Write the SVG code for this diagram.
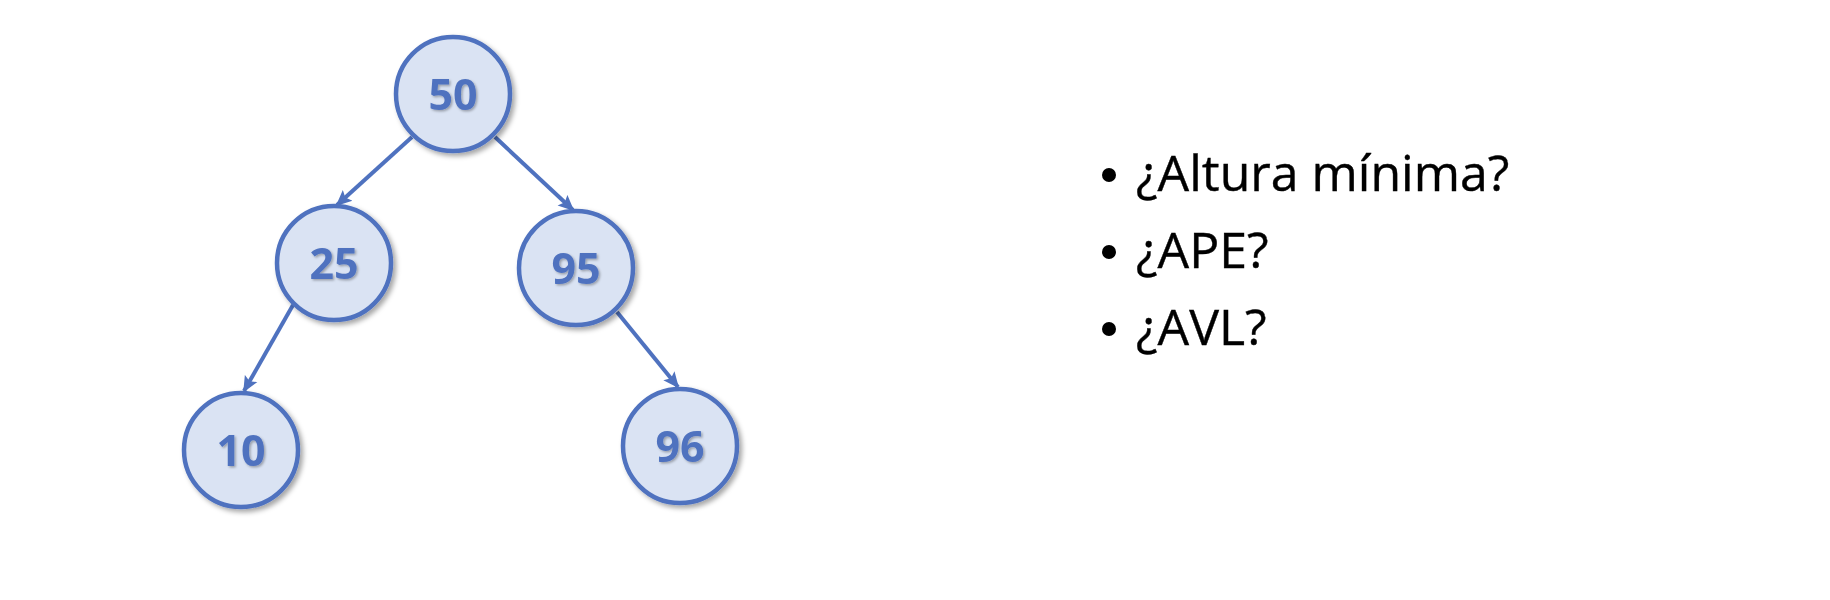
<svg xmlns="http://www.w3.org/2000/svg" width="1830" height="600" viewBox="0 0 1830 600">
<style>
.node circle{fill:#DAE3F3;stroke:#4F72BF;stroke-width:4.5;filter:url(#sh)}
.node text{font-family:"Open Sans","Lato",sans-serif;font-weight:bold;font-size:43px;fill:#4F72BF;text-anchor:middle;filter:url(#tsh)}
.edge{stroke:#4F72BF;stroke-width:4;fill:none;marker-end:url(#ah)}
.bul{font-family:"Open Sans","Noto Sans",sans-serif;font-size:50px;fill:#000;stroke:#000;stroke-width:0.4}
</style>
<defs>
<filter id="sh" x="-20%" y="-20%" width="150%" height="150%">
<feDropShadow dx="3" dy="3" stdDeviation="2.5" flood-color="#000" flood-opacity="0.35"/>
</filter>
<filter id="tsh" x="-20%" y="-20%" width="150%" height="150%">
<feDropShadow dx="1.5" dy="1.5" stdDeviation="1" flood-color="#000" flood-opacity="0.3"/>
</filter>
<marker id="ah" viewBox="0 0 10 10" refX="9" refY="5" markerWidth="4" markerHeight="4" orient="auto" markerUnits="strokeWidth">
<path d="M0,0.5 L10,5 L0,9.5 L2,5 Z" fill="#4F72BF"/>
</marker>
</defs>
<rect width="1830" height="600" fill="#fff"/>
<g id="connectors">
<line class="edge" x1="412" y1="137" x2="337" y2="205"/>
<line class="edge" x1="495" y1="137" x2="573" y2="210"/>
<line class="edge" x1="293" y1="305" x2="244" y2="391"/>
<line class="edge" x1="617" y1="312" x2="678" y2="387"/>
</g>
<g id="n50" class="node"><circle cx="453" cy="94" r="57"/><text x="453" y="110">50</text></g>
<g id="n25" class="node"><circle cx="334" cy="263" r="57"/><text x="334" y="279">25</text></g>
<g id="n95" class="node"><circle cx="576" cy="268" r="57"/><text x="576" y="284">95</text></g>
<g id="n10" class="node"><circle cx="241" cy="450" r="57"/><text x="241" y="466">10</text></g>
<g id="n96" class="node"><circle cx="680" cy="446" r="57"/><text x="680" y="462">96</text></g>
<g id="bullets">
<circle cx="1109" cy="175" r="7"/>
<text class="bul" x="1136" y="191">¿Altura mínima?</text>
<circle cx="1109" cy="252" r="7"/>
<text class="bul" x="1136" y="268">¿APE?</text>
<circle cx="1109" cy="329" r="7"/>
<text class="bul" x="1136" y="345">¿AVL?</text>
</g>
</svg>
